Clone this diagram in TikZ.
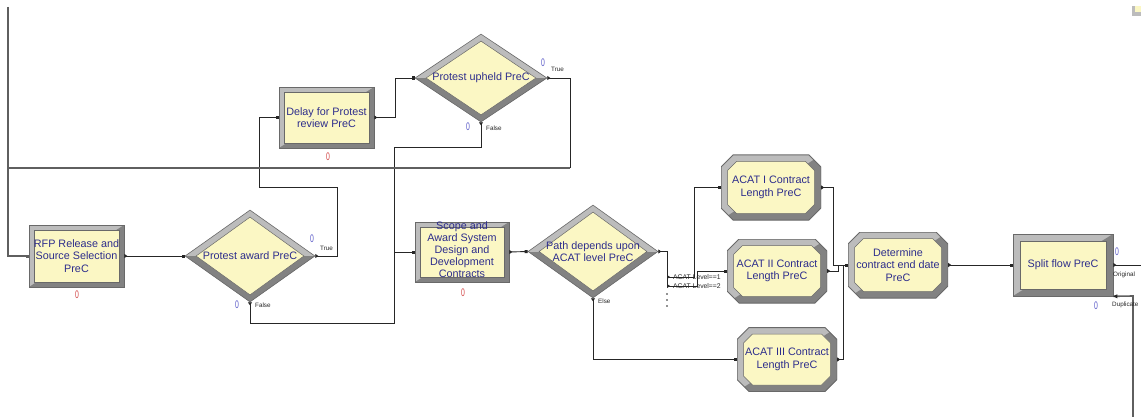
\documentclass[tikz,border=0pt]{standalone}
\usepackage{fontspec}
\usepackage{graphicx}
\setmainfont{Liberation Sans}
\usetikzlibrary{shapes.geometric,arrows.meta,calc}
\definecolor{modfill}{RGB}{251,247,196}
\definecolor{modtext}{RGB}{45,45,140}
\definecolor{bevlight}{RGB}{188,188,188}
\definecolor{bevdark}{RGB}{130,130,130}
\definecolor{bevedge}{RGB}{105,105,105}
\definecolor{zeroblue}{RGB}{90,90,200}
\definecolor{zerored}{RGB}{210,70,70}
\definecolor{linegray}{RGB}{95,95,95}
\newcommand\modfont{\fontsize{10.8}{12.5}\selectfont}
\newcommand\scopefont{\fontsize{10.8}{12}\selectfont}
\newcommand\tinyfont{\fontsize{6.3}{7}\selectfont}
\newcommand\zerofont{\fontsize{11}{11}\selectfont}
\newcommand\zz{\scalebox{0.62}[1]{0}}
\newcommand\octo[2]{($(pA)+(#1+#2,-#1)$) -- ($(pA -| pB)+(-#1-#2,-#1)$) -- ($(pA -| pB)+(-#1,-#1-#2)$) -- ($(pB)+(-#1,#1+#2)$) -- ($(pB)+(-#1-#2,#1)$) -- ($(pA |- pB)+(#1+#2,#1)$) -- ($(pA |- pB)+(#1,#1+#2)$) -- ($(pA)+(#1,-#1-#2)$) -- cycle}
\tikzset{
  mtext/.style={font=\modfont, text=modtext, align=center, inner sep=0pt},
  rectmod/.style={rectangle, inner sep=0pt, fill=bevlight, draw=bevedge, line width=0.6pt,
    font=\modfont, text=modtext, align=center,
    path picture={
      \coordinate (pA) at (path picture bounding box.north west);
      \coordinate (pB) at (path picture bounding box.south east);
      \fill[bevdark] (pA -| pB) -- (pB) -- (pA |- pB) -- cycle;
      \filldraw[fill=modfill, draw=bevedge, line width=0.5pt] ($(pA)+(#1,-#1)$) rectangle ($(pB)+(-#1,#1)$);
    }},
  rectmod/.default=5pt,
  octmod/.style={rectangle, inner sep=0pt, fill=white,
    font=\modfont, text=modtext, align=center,
    path picture={
      \coordinate (pA) at (path picture bounding box.north west);
      \coordinate (pB) at (path picture bounding box.south east);
      \begin{scope}
        \clip \octo{0pt}{12pt};
        \fill[bevlight] (pA) rectangle (pB);
        \fill[bevdark] (pA -| pB) -- (pB) -- (pA |- pB) -- cycle;
      \end{scope}
      \draw[bevedge, line width=1pt] \octo{0pt}{12pt};
      \filldraw[fill=modfill, draw=bevedge, line width=0.5pt] \octo{6.5pt}{9pt};
    }},
  diamod/.style={diamond, inner sep=0pt, fill=bevlight, draw=bevedge, line width=0.6pt,
    path picture={
      \coordinate (pA) at (path picture bounding box.north west);
      \coordinate (pB) at (path picture bounding box.south east);
      \coordinate (pC) at (path picture bounding box.center);
      \fill[bevdark] (pA |- pC) rectangle (pB);
      \filldraw[fill=modfill, draw=bevedge, line width=0.5pt]
        ($(path picture bounding box.north)+(0,-7pt)$) -- ($(path picture bounding box.east)+(-11pt,0)$) --
        ($(path picture bounding box.south)+(0,7pt)$) -- ($(path picture bounding box.west)+(11pt,0)$) -- cycle;
    }},
  flow/.style={draw=black!85, line width=0.9pt, {Triangle[reversed,length=3pt,width=4pt]}-{Square[length=3pt,width=3pt]}},
  flowS/.style={draw=black!85, line width=0.9pt, {Triangle[reversed,length=3pt,width=4pt]}-},
  loopline/.style={draw=linegray, line width=1.6pt},
  small/.style={font=\tinyfont, text=black!85, inner sep=0pt, anchor=west},
  zerob/.style={font=\zerofont, text=zeroblue, inner sep=0pt},
  zeror/.style={font=\zerofont, text=zerored, inner sep=0pt}
}
\begin{document}
\begin{tikzpicture}[x=1pt,y=-1pt]
\useasboundingbox (0,0) rectangle (1141,417);
\fill[white] (0,0) rectangle (1141,417);

% coordinates for free ends
\coordinate (topin) at (8,7);
\coordinate (j1) at (8,168);
\coordinate (origend) at (1141,265);
\coordinate (dupend) at (1133,417);

% modules
\node[rectmod, minimum width=95pt, minimum height=62pt] (rfp) at (76.5,256) {RFP Release and\\Source Selection\\PreC};
\node[diamod, minimum width=130pt, minimum height=92pt] (paward) at (250,256) {};
\node[mtext] (pawardT) at (paward) {Protest award PreC};
\node[rectmod, minimum width=95pt, minimum height=61pt] (delay) at (326.5,117.5) {Delay for Protest\\review PreC};
\node[diamod, minimum width=132pt, minimum height=88pt] (pupheld) at (481,78) {};
\node[mtext] (pupheldT) at (pupheld) {Protest upheld PreC};
\node[rectmod, minimum width=94pt, minimum height=60pt] (scope) at (462,252) {};
\node[mtext, font=\scopefont] (scopeT) at (462,250) {Scope and\\Award System\\Design and\\Development\\Contracts};
\node[diamod, minimum width=130pt, minimum height=93pt] (pathdec) at (593,251.5) {};
\node[mtext] (pathdecT) at (pathdec) {Path depends upon\\ACAT level PreC};
\node[octmod, minimum width=100pt, minimum height=65pt] (acat1) at (771,187.5) {ACAT I Contract\\Length PreC};
\node[octmod, minimum width=100pt, minimum height=64pt] (acat2) at (777,271) {ACAT II Contract\\Length PreC};
\node[octmod, minimum width=100pt, minimum height=64pt] (acat3) at (787,359.5) {ACAT III Contract\\Length PreC};
\node[octmod, minimum width=100pt, minimum height=66pt] (determine) at (898,265) {Determine\\contract end date\\PreC};
\node[rectmod=7pt, minimum width=100pt, minimum height=62pt] (split) at (1063,265) {Split flow PreC};

% connectors
\draw[loopline, -{Square[length=3pt,width=3pt]}] (topin) |- (rfp.west);
\draw[flow] (rfp.east) -- (paward.west);
\draw[flow] (paward.east) -- (337,256) -- (337,187) -- (259,187) |- (delay.west);
\draw[flow] (paward.south) |- (394,323) -- (394,252) -- (scope.west);
\draw[flowS] (pupheld.south) -- (481,147) -- (394,147) -- (394,252);
\draw[flow] (delay.east) -- (395,117.5) -- (395,78) -- (pupheld.west);
\draw[flowS] (pupheld.east) -- (570,78) -- (570,168);
\draw[loopline] (570,168) -- (j1);
\draw[flow] (scope.east) -- (pathdec.west);
\draw[flowS] (pathdec.east) -- (667,251.5) -- (667,287);
\draw[flow] (667,277) -- (694,277) |- (acat1.west);
\draw[flow] (667,286) -- (697,286) |- (acat2.west);
\foreach \yy in {294,300,306} \fill[black!85] (667,\yy) circle (0.9);
\draw[flow] (pathdec.south) |- (acat3.west);
\draw[flow] (acat1.east) -| (833,265) -- (determine.west);
\draw[flowS] (acat2.east) -| (838,265);
\draw[flowS] (acat3.east) -| (843,265);
\draw[flow] (determine.east) -- (split.west);
\draw[flowS] (split.east) -- (origend);
\draw[loopline] (split.south east) -- (1133,296) -- (dupend);
\fill[black!85] (split.south east) -- ++(4,-2) -- ++(0,4) -- cycle;

% small labels
\node[small] (lt1) at (320,248) {True};
\node[small] (lf1) at (255,305) {False};
\node[small] (lt2) at (551,69) {True};
\node[small] (lf2) at (486,128) {False};
\node[small] (le) at (598,301) {Else};
\node[small] (lo) at (1113,275) {Original};
\node[small] (ld) at (1112,305) {Duplicate};
\node[small, font=\fontsize{6.8}{7}\selectfont] (la1) at (673,277) {ACAT Level==1};
\node[small, font=\fontsize{6.8}{7}\selectfont] (la2) at (673,286) {ACAT Level==2};

% counters
\node[zeror] (rfpz) at (77,295) {\zz};
\node[zeror] (delayz) at (328,157) {\zz};
\node[zeror] (scopez) at (463,293) {\zz};
\node[zerob] (z1) at (312,239) {\zz};
\node[zerob] (z2) at (237,305) {\zz};
\node[zerob] (z3) at (543,63) {\zz};
\node[zerob] (z4) at (468,127) {\zz};
\node[zerob] (z5) at (1117,252) {\zz};
\node[zerob] (z6) at (1096,306) {\zz};

% partial icon at top right
\fill[bevlight] (1132,6) rectangle (1141,16);
\fill[modfill] (1135,6) rectangle (1141,12);
\end{tikzpicture}
\end{document}
